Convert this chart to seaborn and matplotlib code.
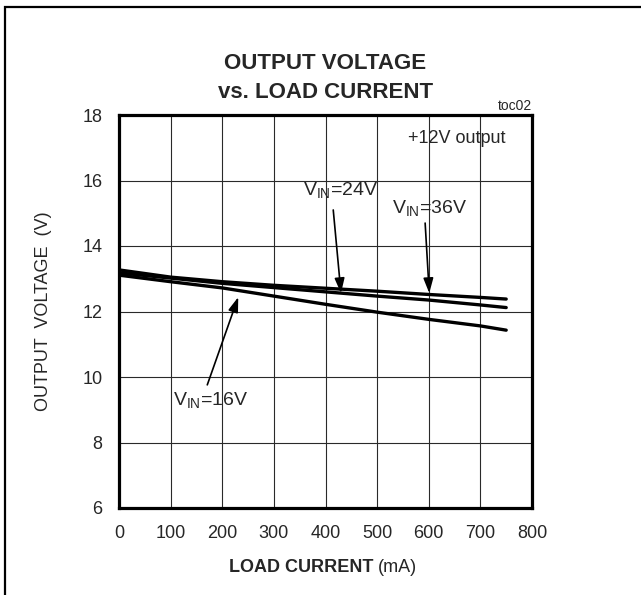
import matplotlib
matplotlib.use("Agg")
import matplotlib.pyplot as plt
from matplotlib.patches import Rectangle
import seaborn as sns
import pandas as pd
from matplotlib import font_manager

# ---- data ----
load_current = [0, 100, 200, 300, 400, 500, 600, 700, 750]
v_16 = [13.11, 12.91, 12.72, 12.47, 12.22, 11.98, 11.76, 11.56, 11.43]
v_24 = [13.18, 13.02, 12.86, 12.73, 12.60, 12.47, 12.35, 12.20, 12.12]
v_36 = [13.27, 13.05, 12.91, 12.80, 12.71, 12.62, 12.52, 12.43, 12.38]
series_names = ["VIN=16V", "VIN=24V", "VIN=36V"]
x_ticks = [0, 100, 200, 300, 400, 500, 600, 700, 800]
y_ticks = [6, 8, 10, 12, 14, 16, 18]

rows = []
for name, vals in zip(series_names, [v_16, v_24, v_36]):
    for c, v in zip(load_current, vals):
        rows.append({"current": c, "voltage": v, "series": name})
df = pd.DataFrame(rows)

sns.set_style("white")
avail = {f.name for f in font_manager.fontManager.ttflist}
fam = [f for f in ["Liberation Sans Narrow", "Liberation Sans", "DejaVu Sans"] if f in avail]
plt.rcParams["font.family"] = fam
plt.rcParams["mathtext.fontset"] = "custom"
plt.rcParams["mathtext.rm"] = fam[0]
plt.rcParams["mathtext.it"] = fam[0]

fig = plt.figure(figsize=(6.41, 5.95), dpi=100)
ax = fig.add_axes([119 / 641, 1 - 508 / 595, (532 - 119) / 641, (508 - 115) / 595])

sns.lineplot(data=df, x="current", y="voltage", hue="series",
             palette=["black", "black", "black"], linewidth=2.4, ax=ax,
             legend=False)

ax.set_xlim(0, 800)
ax.set_ylim(6, 18)
ax.set_xticks(x_ticks)
ax.set_yticks(y_ticks)
ax.set_xticklabels([str(t) for t in x_ticks])
ax.set_yticklabels([str(t) for t in y_ticks])
ax.tick_params(axis="both", length=0, pad=12, labelsize=13)
ax.grid(True, color="#2a2a2a", linewidth=0.8)
for s in ax.spines.values():
    s.set_linewidth(2.3)
    s.set_color("black")
ax.set_xlabel("")
ax.set_ylabel("OUTPUT  VOLTAGE  (V)", fontsize=13, labelpad=22)

# title
ax.text(0.5, 1.03, "OUTPUT VOLTAGE\nvs. LOAD CURRENT", transform=ax.transAxes,
        ha="center", va="bottom", fontsize=16, fontweight="bold",
        linespacing=1.5)
ax.text(1.0, 1.005, "toc02", transform=ax.transAxes, ha="right", va="bottom",
        fontsize=10)
ax.text(0.937, 0.94, "+12V output", transform=ax.transAxes, ha="right",
        va="center", fontsize=13)

# x label: bold + regular
fig.text(0.583, 1 - 568 / 595, "LOAD CURRENT", ha="right", va="center",
         fontsize=13, fontweight="bold")
fig.text(0.590, 1 - 568 / 595, "(mA)", ha="left", va="center", fontsize=13)

# annotations
arrowprops = dict(arrowstyle="-|>,head_length=0.9,head_width=0.3",
                  color="black", lw=1.2, shrinkA=0, shrinkB=0)
ax.text(357, 15.7, r"V$_{\mathrm{IN}}$=24V", fontsize=14, ha="left", va="center")
ax.annotate("", xy=(430, 12.56), xytext=(415, 15.1), arrowprops=arrowprops)
ax.text(529, 15.15, r"V$_{\mathrm{IN}}$=36V", fontsize=14, ha="left", va="center")
ax.annotate("", xy=(601, 12.56), xytext=(593, 14.7), arrowprops=arrowprops)
ax.text(105, 9.3, r"V$_{\mathrm{IN}}$=16V", fontsize=14, ha="left", va="center")
ax.annotate("", xy=(231, 12.44), xytext=(171, 9.76), arrowprops=arrowprops)

# figure frame (left and top edges visible)
fig.patches.append(Rectangle((5 / 641, -0.1), 1.2, 1 - 7 / 595 + 0.1,
                             transform=fig.transFigure, fill=False,
                             edgecolor="black", linewidth=1.6))

fig.savefig("out.png", dpi=100)
